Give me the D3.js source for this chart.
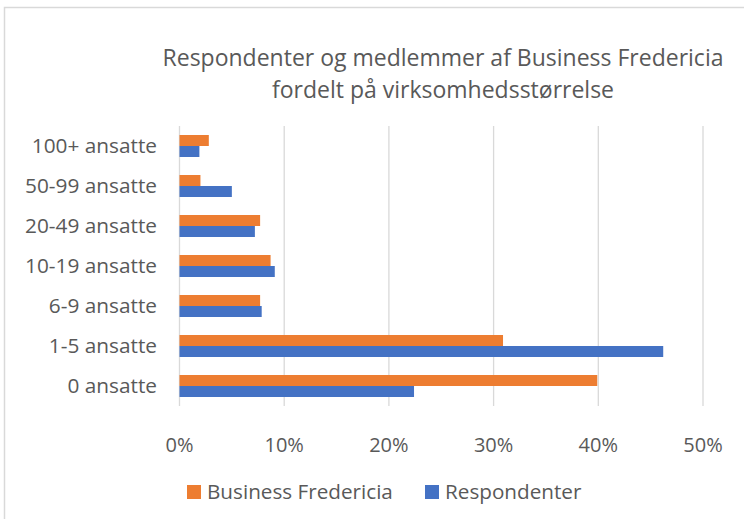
<!DOCTYPE html>
<html><head><meta charset="utf-8">
<script src="https://cdn.jsdelivr.net/npm/d3@7"></script>
<style>body{margin:0;background:#fff}svg{display:block}text{font-family:"Open Sans",sans-serif}</style>
</head><body>
<script>
const categories = ["100+ ansatte","50-99 ansatte","20-49 ansatte","10-19 ansatte","6-9 ansatte","1-5 ansatte","0 ansatte"];
const businessFredericia = [2.8, 2.0, 7.7, 8.7, 7.7, 30.9, 39.9];
const respondenter = [1.9, 5.0, 7.2, 9.1, 7.85, 46.2, 22.4];
const xTicks = [0, 10, 20, 30, 40, 50];
const seriesNames = ["Business Fredericia", "Respondenter"];
const colors = ["#ED7D31", "#4472C4"];

(function () {
const W = 744, H = 519;
const svg = d3.select("body").append("svg").attr("width", W).attr("height", H);
svg.append("rect").attr("x", 4.5).attr("y", 7.5).attr("width", 800).attr("height", 600)
  .attr("fill", "#fff").attr("stroke", "#d9d9d9").attr("stroke-width", 1.5);

const pLeft = 179.5, pRight = 703, pTop = 126, pBottom = 406;
const x = d3.scaleLinear().domain([0, 50]).range([pLeft, pRight]);
const y = d3.scaleBand().domain(categories).range([pTop, pBottom]).paddingInner(0.45).paddingOuter(0.225);
const sub = d3.scaleBand().domain(seriesNames).range([0, y.bandwidth()]);

svg.append("g").selectAll("line").data(xTicks).join("line")
  .attr("x1", d => x(d)).attr("x2", d => x(d)).attr("y1", pTop).attr("y2", pBottom)
  .attr("stroke", "#d9d9d9").attr("stroke-width", 1.3);

const data = [businessFredericia, respondenter];
data.forEach((vals, si) => {
  svg.append("g").selectAll("rect").data(vals).join("rect")
    .attr("x", x(0)).attr("y", (d, i) => y(categories[i]) + sub(seriesNames[si]))
    .attr("width", d => x(d) - x(0)).attr("height", sub.bandwidth())
    .attr("fill", colors[si]);
});

svg.append("g").selectAll("text").data(categories).join("text")
  .attr("x", 157).attr("y", d => y(d) + y.bandwidth() / 2).attr("dy", "0.35em")
  .attr("text-anchor", "end").attr("fill", "#595959").attr("font-size", 20.8).text(d => d);

svg.append("g").selectAll("text").data(xTicks).join("text")
  .attr("x", d => x(d)).attr("y", 445).attr("dy", "0.35em")
  .attr("text-anchor", "middle").attr("fill", "#595959").attr("font-size", 20).text(d => d + "%");

const title = ["Respondenter og medlemmer af Business Fredericia", "fordelt på virksomhedsstørrelse"];
svg.append("g").selectAll("text").data(title).join("text")
  .attr("x", 443).attr("y", (d, i) => 58 + i * 32).attr("dy", "0.35em")
  .attr("text-anchor", "middle").attr("fill", "#595959").attr("font-size", 23).text(d => d);

const legX = [187, 425];
const lg = svg.append("g").selectAll("g").data(seriesNames).join("g")
  .attr("transform", (d, i) => `translate(${legX[i]},492)`);
lg.append("rect").attr("x", 0).attr("y", -7).attr("width", 14).attr("height", 14).attr("fill", (d, i) => colors[i]);
lg.append("text").attr("x", 20).attr("y", 0).attr("dy", "0.35em").attr("fill", "#595959")
  .attr("font-size", 20.7).text(d => d);
})();
</script>
</body></html>
